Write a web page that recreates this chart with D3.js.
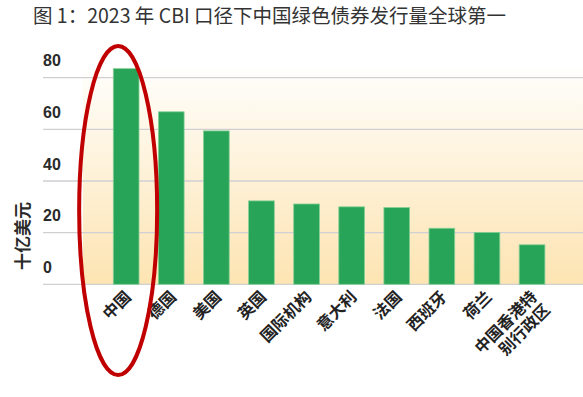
<!DOCTYPE html>
<html>
<head>
<meta charset="utf-8">
<script src="https://cdn.jsdelivr.net/npm/d3@7"></script>
<style>
  body { margin: 0; background: #fff; }
  svg { display: block; }
</style>
</head>
<body>
<svg id="chart" width="583" height="397"></svg>
<script>
// 2023 CBI green bond issuance, billions USD
var regions = ["中国", "德国", "美国", "英国", "国际机构", "意大利", "法国", "西班牙", "荷兰", "中国香港特\n别行政区"];
var issuance = [83.5, 66.8, 59.4, 32.3, 31.1, 30.0, 29.7, 21.7, 20.1, 15.3];
var yTicks = [0, 20, 40, 60, 80];

var svg = d3.select("#chart");

var defs = svg.append("defs");
var grad = defs.append("linearGradient")
  .attr("id", "bg").attr("x1", 0).attr("y1", 0).attr("x2", 0).attr("y2", 1);
grad.append("stop").attr("offset", "0%").attr("stop-color", "#fffefb");
grad.append("stop").attr("offset", "100%").attr("stop-color", "#fde4b2");

var x = d3.scaleBand().domain(regions).range([103.6, 554.6]).paddingInner(0.43).paddingOuter(0.215);
var y = d3.scaleLinear().domain([0, 80]).range([284.3, 77.7]);

// title
svg.append("text")
  .attr("x", 33).attr("y", 23)
  .attr("font-family", "'Noto Sans CJK SC', sans-serif")
  .attr("font-size", 19.5)
  .attr("fill", "#333")
  .text("图 1：2023 年 CBI 口径下中国绿色债券发行量全球第一");

// plot background
svg.append("rect")
  .attr("x", 83).attr("y", 70)
  .attr("width", 583 - 83).attr("height", y(0) - 70)
  .attr("fill", "url(#bg)");

// grid lines
svg.append("g").selectAll("line").data(yTicks).join("line")
  .attr("x1", 43).attr("x2", 583)
  .attr("y1", d => y(d)).attr("y2", d => y(d))
  .attr("stroke", "#cfcfd4").attr("stroke-width", 1.3);

// y tick labels sit above their grid lines
svg.append("g").selectAll("text").data(yTicks).join("text")
  .attr("x", 43).attr("y", d => y(d) - 17)
  .attr("dominant-baseline", "central")
  .attr("font-family", "'Liberation Sans', Arial, sans-serif")
  .attr("font-weight", "bold")
  .attr("font-size", 16)
  .attr("fill", "#2a2a2a")
  .text(d => d);

// y title
svg.append("text")
  .attr("transform", "translate(21,236) rotate(-90)")
  .attr("text-anchor", "middle")
  .attr("dominant-baseline", "central")
  .attr("font-family", "'Noto Sans CJK SC', sans-serif")
  .attr("font-weight", "bold")
  .attr("font-size", 17)
  .attr("fill", "#2a2a2a")
  .text("十亿美元");

// bars
svg.append("g").selectAll("rect").data(issuance).join("rect")
  .attr("x", (d, i) => x(regions[i]))
  .attr("y", d => y(d))
  .attr("width", x.bandwidth())
  .attr("height", d => y(0) - y(d))
  .attr("fill", "#28a458")
  .attr("stroke", "#86d096")
  .attr("stroke-width", 0.8);

// x labels, rotated
var labels = svg.append("g").selectAll("text").data(regions).join("text")
  .attr("transform", d => "translate(" + (x(d) + x.bandwidth() / 2 + 2) + ",294) rotate(-45)")
  .attr("text-anchor", "end")
  .attr("font-family", "'Noto Sans CJK SC', sans-serif")
  .attr("font-weight", "bold")
  .attr("font-size", 16)
  .attr("fill", "#222");
labels.each(function(d) {
  var parts = d.split("\n");
  var t = d3.select(this);
  parts.forEach(function(p, k) {
    t.append("tspan").attr("x", 0).attr("dy", k === 0 ? "0.35em" : "1.15em").text(p);
  });
});

// highlight ellipse around China
svg.append("ellipse")
  .attr("cx", x(regions[0]) + x.bandwidth() / 2 - 8)
  .attr("cy", 210.5)
  .attr("rx", 39).attr("ry", 164.5)
  .attr("fill", "none")
  .attr("stroke", "#c00000")
  .attr("stroke-width", 4);
</script>
</body>
</html>
